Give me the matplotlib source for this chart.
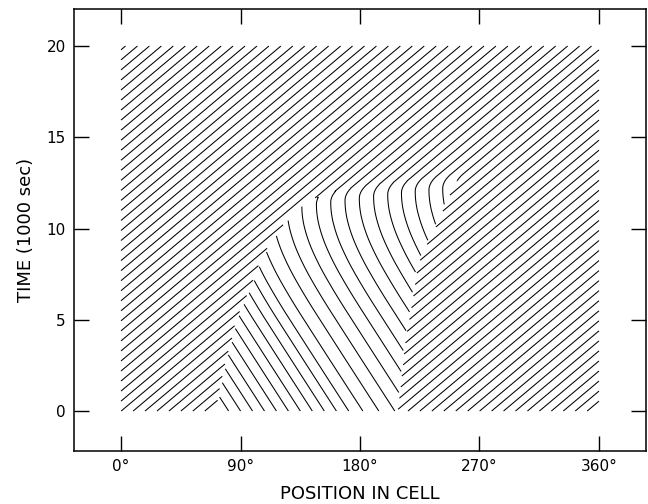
import numpy as np
import matplotlib
matplotlib.use("Agg")
import matplotlib.pyplot as plt

# ---- values ----
# background (right-moving) crests
wavelength = 9.0          # degrees between crests
period = 0.55             # 1000 sec between crests at a fixed place
# left edge of the left-moving domain (sink), degrees vs 1000 sec
sink_t = [0, 1, 2, 3, 4, 5, 6, 7, 8, 9, 10, 11, 11.5, 12.0, 12.3, 12.6, 13.0]
sink_x = [72, 74, 77, 80, 84, 87, 93, 99, 104, 111, 120, 132, 141, 158, 180, 215, 258]
# right edge of the domain (source)
source_t = [0, 2, 4, 6, 8, 9, 10, 11, 12, 12.5, 13.0]
source_x = [208, 211, 214, 219, 223, 229, 236, 242, 248, 252, 258]
# where the domain's crests stand still
stall_x = [100, 150, 200, 250]
stall_t = [10.8, 11.35, 11.85, 12.25]
# crest speed inside the domain (deg per 1000 sec) vs time past the stall line
lag_s = [-30, -6, -4, -2.5, -1.2, -0.5, 0, 0.3, 0.75, 30]
lag_v = [-9.2, -8.8, -7.8, -6.0, -3.5, -1.5, 0.0, 6.0, 16.36, 16.36]

x_ticks = [0, 90, 180, 270, 360]
x_labels = ["0°", "90°", "180°", "270°", "360°"]
y_ticks = [0, 5, 10, 15, 20]

plt.rcParams["font.family"] = ["DejaVu Sans"]

# ---- crest phase field, marched back in time from the top ----
v_bg = wavelength / period
n_t = 1300
t = np.linspace(0, 20, n_t + 1)
dt = t[1] - t[0]
dx = v_bg * dt                       # background moves exactly one cell per step
i0 = int(np.ceil(160 / dx))
x = (np.arange(i0 + int(np.ceil(360 / dx)) + 1) - i0) * dx
t_end = source_t[-1]


def background(xx, tt):
    return xx / wavelength - tt / period


def speed(tt):
    v = np.full_like(x, v_bg)
    if tt < t_end:
        m = x < np.interp(tt, source_t, source_x)
        s = tt - np.interp(x[m], stall_x, stall_t)
        v[m] = np.interp(s, lag_s, lag_v)
    return v


phase = np.empty((len(t), len(x)))
phase[-1] = background(x, t[-1])
for i in range(len(t) - 1, 0, -1):
    xa = x + speed(t[i - 1]) * dt
    pn = np.interp(xa, x, phase[i])
    out = xa > x[-1]
    pn[out] = background(xa[out], t[i])
    phase[i - 1] = pn

# left of the sink the background crests run on unchanged
tt, xx = np.meshgrid(t, x, indexing="ij")
left = (xx < np.interp(tt, sink_t, sink_x)) & (tt < t_end)
field = np.where(left, background(xx, tt), phase)
keep = x >= -1e-9
x = x[keep]
field = field[:, keep]

# hide the jumps where crests from both sides meet
bad = np.zeros(field.shape, bool)
jx = np.abs(np.diff(field, axis=1)) > 0.2
bad[:, 1:] |= jx
bad[:, :-1] |= jx
jt = np.abs(np.diff(field, axis=0)) > 0.2
bad[1:, :] |= jt
bad[:-1, :] |= jt
bad[:, 1:] |= bad[:, :-1].copy()
field = np.where(bad, np.nan, field)

# ---- figure ----
fig = plt.figure(figsize=(6.48, 5.04), dpi=100)
ax = fig.add_axes([74 / 648, 53 / 504, 572 / 648, 442 / 504])
levels = np.arange(np.floor(np.nanmin(field)), np.ceil(np.nanmax(field)) + 1) + 0.0123
ax.contour(x, t, field, levels=levels, colors="black", linewidths=0.75,
           linestyles="solid")

ax.set_xlim(-35.4, 395.4)
ax.set_ylim(-2.19, 22.03)
ax.set_xticks(x_ticks)
ax.set_xticklabels(x_labels)
ax.set_yticks(y_ticks)
ax.tick_params(direction="in", top=True, right=True, length=10.5, width=1,
               labelsize=11, pad=6)
for sp in ax.spines.values():
    sp.set_linewidth(1.1)
ax.set_xlabel("POSITION IN CELL", fontsize=13, labelpad=8)
ax.set_ylabel("TIME (1000 sec)", fontsize=13, labelpad=8)

fig.savefig("out.png", dpi=100)
